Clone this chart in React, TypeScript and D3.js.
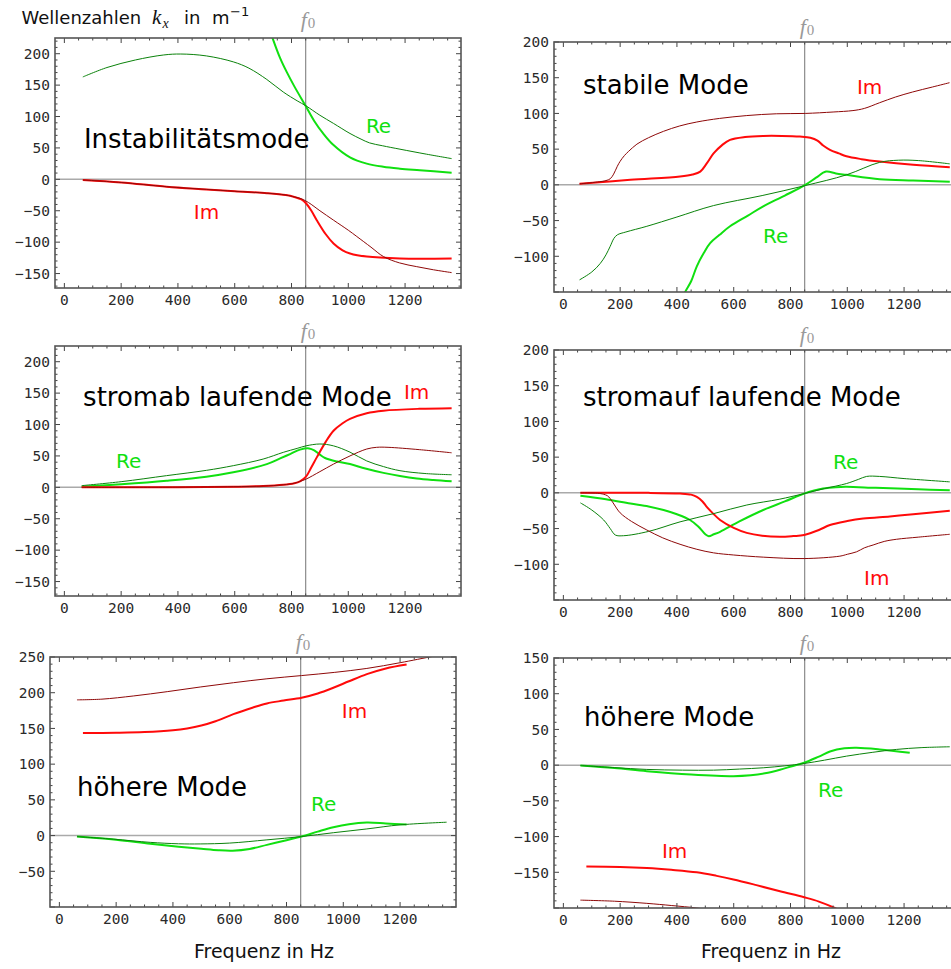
import React from "react";
import * as d3 from "d3";

type Pt = [number, number];

// Frequency axis (Hz)
const X_DOMAIN: [number, number] = [-33, 1397];
const X_MAJOR = [0, 200, 400, 600, 800, 1000, 1200];
const F0 = 850;

// ---------- Instabilitätsmode ----------
const instReDark: Pt[] = [[65, 163], [150, 178], [250, 190], [350, 198], [410, 199.5], [500, 196.5], [595, 187], [650, 177], [713, 159], [771, 139], [820, 125], [851, 117], [900, 102], [948, 89], [1006, 73], [1045, 64], [1075, 58], [1120, 53.5], [1182, 48], [1276, 40], [1364, 33]];
const instRe: Pt[] = [[705, 262], [734, 224], [760, 193], [783, 171], [810, 148], [851, 116], [880, 93], [910, 74], [947, 55], [1006, 35], [1065, 25], [1123, 20], [1182, 17], [1252, 14.5], [1364, 10.6]];
const instIm: Pt[] = [[65, -1], [200, -5], [360, -11.7], [500, -16], [600, -19], [713, -22], [780, -25], [810, -28], [835, -32], [851, -38], [870, -50], [889, -65], [920, -87], [948, -102], [980, -113], [1006, -118], [1065, -123], [1182, -126], [1364, -126]];
const instImDark: Pt[] = [[65, -1], [200, -5], [360, -11.7], [500, -16], [600, -19], [713, -22], [780, -25], [810, -28], [835, -31], [860, -37], [900, -50], [948, -65], [1000, -81], [1030, -91], [1080, -108], [1124, -123], [1180, -133], [1241, -139], [1300, -144], [1364, -148.5]];

// ---------- stabile Mode ----------
const stabImDark: Pt[] = [[57, 1.4], [120, 4], [150, 6], [165, 8.5], [177, 15], [190, 26], [200, 33], [215, 41], [230, 47], [259, 57], [300, 66], [353, 75], [410, 82.5], [470, 88], [550, 93], [646, 97], [750, 99.5], [852, 100], [950, 102], [1020, 104], [1060, 107], [1114, 115], [1170, 123], [1230, 130], [1300, 137], [1360, 143]];
const stabIm: Pt[] = [[57, 1.4], [236, 7], [411, 11.7], [455, 14.5], [482, 18.6], [505, 30], [529, 44], [560, 56], [587, 63], [640, 67], [704, 68.5], [770, 68.5], [833, 67.6], [870, 66], [895, 62], [915, 55], [939, 49], [970, 44], [997, 40], [1050, 36], [1114, 32.6], [1232, 28], [1361, 24.7]];
const stabReDark: Pt[] = [[57, -133], [100, -122], [130, -110], [150, -98], [165, -86], [178, -75], [190, -70], [220, -66], [294, -58], [400, -45], [529, -29], [700, -15], [852, -1], [997, 14], [1114, 31.5], [1180, 34.5], [1250, 34], [1361, 29.4]];
const stabRe: Pt[] = [[400, -175], [429, -150], [450, -135], [470, -114], [495, -95], [517, -81.6], [550, -70], [587, -58], [650, -43], [704, -30], [780, -15], [852, 0], [890, 10], [925, 18.6], [960, 16], [997, 14], [1114, 8], [1232, 6], [1361, 4.2]];

// ---------- stromab laufende Mode ----------
const downReDark: Pt[] = [[61, 2.7], [200, 9], [360, 18.6], [500, 27], [595, 34.5], [700, 45], [771, 55.7], [820, 62], [851, 66], [900, 69], [948, 66], [1006, 56], [1065, 42], [1124, 33], [1182, 26.5], [1270, 22], [1364, 20]];
const downRe: Pt[] = [[61, 1], [200, 5], [360, 10.6], [500, 17], [595, 24], [713, 37], [760, 46], [795, 53], [830, 60], [862, 62], [880, 59], [900, 52], [918, 46.7], [960, 41], [1006, 37], [1060, 30], [1124, 23], [1182, 18], [1241, 14], [1300, 11.5], [1364, 9.5]];
const downIm: Pt[] = [[61, 0], [400, 0.3], [595, 1], [700, 2], [771, 4], [810, 6.5], [830, 9.5], [851, 17], [870, 32], [889, 47.7], [920, 72], [948, 90], [980, 102], [1006, 109], [1065, 118], [1124, 122], [1250, 125], [1364, 126]];
const downImDark: Pt[] = [[61, 0], [400, 0.3], [595, 1], [700, 2], [771, 4], [810, 6.5], [830, 9.5], [851, 13], [900, 25], [948, 37], [1006, 50], [1065, 61], [1100, 63.7], [1140, 63.7], [1250, 60], [1364, 55]];

// ---------- stromauf laufende Mode ----------
const upIm: Pt[] = [[60, 0], [300, 0], [411, -1], [450, -2.5], [470, -5.6], [490, -12], [505, -19.6], [525, -28], [552, -38], [600, -49], [646, -56], [700, -60], [763, -61.5], [810, -60.5], [848, -59], [900, -52], [939, -45], [1000, -39.5], [1056, -36], [1150, -33], [1232, -30], [1361, -25]];
const upImDark: Pt[] = [[60, 0], [120, -0.5], [142, -2], [155, -4], [165, -8], [180, -17], [200, -28], [240, -40], [294, -52], [350, -63], [411, -72], [470, -79], [529, -84], [600, -87], [704, -90], [848, -92], [974, -88.6], [1000, -86], [1033, -82.5], [1060, -77], [1091, -73], [1130, -68], [1173, -65], [1250, -62], [1361, -58]];
const upRe: Pt[] = [[60, -4], [150, -9], [236, -15], [300, -19], [353, -24], [400, -30], [446, -38], [475, -47], [500, -58], [512, -60.6], [530, -58], [552, -54.5], [620, -40], [704, -24], [780, -12], [848, -1], [880, 3], [915, 6], [960, 8], [997, 8.4], [1100, 7], [1250, 5], [1361, 3.7]];
const upReDark: Pt[] = [[60, -14], [100, -24], [142, -38], [165, -50], [183, -59], [212, -60], [300, -54], [411, -40.6], [530, -29], [646, -17], [760, -9], [848, -1], [920, 6], [997, 13], [1040, 19], [1068, 23], [1114, 23], [1200, 20], [1361, 15.4]];

// ---------- höhere Mode (links) ----------
const highAImDark: Pt[] = [[62, 190], [150, 191], [262, 195.5], [380, 201.5], [496, 208], [613, 214], [731, 219.5], [853, 224], [970, 228.5], [1083, 234], [1200, 242], [1317, 251], [1360, 254]];
const highAIm: Pt[] = [[83, 143.5], [200, 144], [300, 145], [400, 147.5], [450, 150], [500, 154], [550, 160], [613, 170], [680, 179], [731, 185], [790, 189], [853, 193], [910, 199], [965, 207], [1020, 216], [1083, 226], [1150, 234], [1223, 239.5]];
const highAReDark: Pt[] = [[62, -1.4], [190, -5], [320, -9.5], [420, -11.5], [496, -11.7], [600, -10.5], [731, -6], [853, -1.4], [965, 4], [1083, 9.3], [1200, 15], [1364, 18.7]];
const highARe: Pt[] = [[62, -1.4], [200, -6], [320, -11.5], [420, -15.5], [500, -18.5], [560, -20.6], [610, -21.2], [670, -18.8], [731, -13], [800, -6.5], [853, -1.4], [910, 5.5], [965, 11.7], [1020, 16], [1083, 18.2], [1150, 17], [1223, 15.4]];

// ---------- höhere Mode (rechts) ----------
const highBRe: Pt[] = [[60, -0.5], [180, -4], [294, -8.4], [450, -13], [599, -15.4], [660, -14.2], [710, -11.5], [763, -6.5], [805, -1.5], [848, 3.3], [900, 12], [939, 19], [990, 23.5], [1032, 24.3], [1114, 22], [1220, 17.3]];
const highBReDark: Pt[] = [[60, -0.5], [180, -3.5], [294, -6], [420, -7], [529, -7], [620, -5.5], [704, -3.7], [780, -1], [848, 2.3], [920, 7], [997, 12.6], [1090, 18], [1173, 22], [1260, 24.5], [1361, 25.7]];
const highBIm: Pt[] = [[81, -142], [200, -142.5], [294, -144], [380, -146.5], [470, -150], [540, -155], [599, -160], [680, -168], [763, -176.6], [848, -185], [900, -191], [956, -200], [990, -207]];
const highBImDark: Pt[] = [[60, -189], [180, -190.5], [294, -193.5], [380, -196.5], [470, -200], [520, -203]];

const GREEN = "#10e010";
const DARK_GREEN = "#0a820a";
const RED = "#ff0a0a";
const DARK_RED = "#8e0808";

const W = 406;
const H = 250;

interface Label { text: string; f: number; v: number; color: string; size: number }
interface PanelSpec {
  id: string;
  left: number;
  top: number;
  yDomain: [number, number];
  f0Dy: number;
  re: Pt[]; reDark: Pt[]; im: Pt[]; imDark: Pt[];
  labels: Label[];
}

const panels: PanelSpec[] = [
  {
    id: "p1", left: 55, top: 38, yDomain: [-173, 225], f0Dy: -11,
    re: instRe, reDark: instReDark, im: instIm, imDark: instImDark,
    labels: [
      { text: "Instabilitätsmode", f: 69, v: 50, color: "#000", size: 26 },
      { text: "Re", f: 1062, v: 74, color: GREEN, size: 20 },
      { text: "Im", f: 456, v: -63, color: RED, size: 20 },
    ],
  },
  {
    id: "p2", left: 554, top: 42, yDomain: [-150, 200], f0Dy: -8,
    re: stabRe, reDark: stabReDark, im: stabIm, imDark: stabImDark,
    labels: [
      { text: "stabile Mode", f: 69, v: 127, color: "#000", size: 26 },
      { text: "Im", f: 1034, v: 127, color: RED, size: 20 },
      { text: "Re", f: 703, v: -81, color: GREEN, size: 20 },
    ],
  },
  {
    id: "p3", left: 55, top: 346, yDomain: [-173, 225], f0Dy: -8,
    re: downRe, reDark: downReDark, im: downIm, imDark: downImDark,
    labels: [
      { text: "stromab laufende Mode", f: 66, v: 129, color: "#000", size: 26 },
      { text: "Im", f: 1196, v: 140, color: RED, size: 20 },
      { text: "Re", f: 182, v: 30, color: GREEN, size: 20 },
    ],
  },
  {
    id: "p4", left: 554, top: 350, yDomain: [-150, 200], f0Dy: -8,
    re: upRe, reDark: upReDark, im: upIm, imDark: upImDark,
    labels: [
      { text: "stromauf laufende Mode", f: 69, v: 121, color: "#000", size: 26 },
      { text: "Re", f: 950, v: 33, color: GREEN, size: 20 },
      { text: "Im", f: 1059, v: -129, color: RED, size: 20 },
    ],
  },
  {
    id: "p5", left: 50, top: 657, yDomain: [-100, 250], f0Dy: -8,
    re: highARe, reDark: highAReDark, im: highAIm, imDark: highAImDark,
    labels: [
      { text: "höhere Mode", f: 62, v: 56, color: "#000", size: 26 },
      { text: "Im", f: 995, v: 165, color: RED, size: 20 },
      { text: "Re", f: 886, v: 34, color: GREEN, size: 20 },
    ],
  },
  {
    id: "p6", left: 554, top: 658, yDomain: [-200, 150], f0Dy: -8,
    re: highBRe, reDark: highBReDark, im: highBIm, imDark: highBImDark,
    labels: [
      { text: "höhere Mode", f: 73, v: 55, color: "#000", size: 26 },
      { text: "Re", f: 897, v: -44, color: GREEN, size: 20 },
      { text: "Im", f: 347, v: -130, color: RED, size: 20 },
    ],
  },
];

const fmt = (v: number) => (v < 0 ? "\u2212" + Math.abs(v) : String(v));
const SANS = "'DejaVu Sans', sans-serif";
const MONO = "'DejaVu Sans Mono', monospace";
const SERIF = "'Liberation Serif', 'DejaVu Serif', serif";

function Panel({ p }: { p: PanelSpec }) {
  const x = d3.scaleLinear().domain(X_DOMAIN).range([p.left, p.left + W]);
  const y = d3.scaleLinear().domain(p.yDomain).range([p.top + H, p.top]);
  const line = d3
    .line<Pt>()
    .x((d) => x(d[0]))
    .y((d) => y(d[1]))
    .curve(d3.curveCatmullRom.alpha(0.5));

  const [y0, y1] = p.yDomain;
  const yMajor = d3.range(Math.ceil(y0 / 50) * 50, y1 + 0.01, 50);
  const yMinor = d3.range(Math.ceil(y0 / 10) * 10, y1 + 0.01, 10).filter((v) => v % 50 !== 0);
  const xMinor = d3.range(0, X_DOMAIN[1], 50).filter((v) => v % 200 !== 0);
  const xMajor = d3.range(0, X_DOMAIN[1], 200);
  const L = p.left, R = p.left + W, T = p.top, B = p.top + H;
  const tickColor = "#444";

  return (
    <g>
      <defs>
        <clipPath id={`clip-${p.id}`}>
          <rect x={L} y={T} width={W} height={H} />
        </clipPath>
      </defs>
      {/* zero line and f0 marker */}
      <line x1={L} x2={R} y1={y(0)} y2={y(0)} stroke="#aaa" strokeWidth={1.5} />
      <line x1={x(F0)} x2={x(F0)} y1={T} y2={B} stroke="#808080" strokeWidth={1.1} />
      <text x={x(F0) - 5} y={T + p.f0Dy} fill="#999" fontFamily={SERIF}>
        <tspan fontStyle="italic" fontSize={22}>f</tspan>
        <tspan fontSize={15} dx={1} dy={1}>0</tspan>
      </text>

      {/* curves */}
      <g clipPath={`url(#clip-${p.id})`} fill="none" strokeLinejoin="round">
        <path d={line(p.re) || ""} stroke={GREEN} strokeWidth={2} />
        <path d={line(p.im) || ""} stroke={RED} strokeWidth={2} />
        <path d={line(p.reDark) || ""} stroke={DARK_GREEN} strokeWidth={1} />
        <path d={line(p.imDark) || ""} stroke={DARK_RED} strokeWidth={1} />
      </g>

      {/* frame ticks */}
      <g stroke={tickColor} strokeWidth={1}>
        {xMajor.map((v) => (
          <g key={`xM${v}`}>
            <line x1={x(v)} x2={x(v)} y1={B} y2={B - 5} />
            <line x1={x(v)} x2={x(v)} y1={T} y2={T + 5} />
          </g>
        ))}
        {xMinor.map((v) => (
          <g key={`xm${v}`}>
            <line x1={x(v)} x2={x(v)} y1={B} y2={B - 2.5} />
            <line x1={x(v)} x2={x(v)} y1={T} y2={T + 2.5} />
          </g>
        ))}
        {yMajor.map((v) => (
          <g key={`yM${v}`}>
            <line x1={L} x2={L + 5} y1={y(v)} y2={y(v)} />
            <line x1={R} x2={R - 5} y1={y(v)} y2={y(v)} />
          </g>
        ))}
        {yMinor.map((v) => (
          <g key={`ym${v}`}>
            <line x1={L} x2={L + 2.5} y1={y(v)} y2={y(v)} />
            <line x1={R} x2={R - 2.5} y1={y(v)} y2={y(v)} />
          </g>
        ))}
      </g>
      <rect x={L} y={T} width={W} height={H} fill="none" stroke="#555" strokeWidth={1.6} />

      {/* tick labels */}
      <g fontFamily={MONO} fontSize={14.5} fill="#2a2a2a">
        {X_MAJOR.map((v) => (
          <text key={`xl${v}`} x={x(v)} y={B + 17} textAnchor="middle">{fmt(v)}</text>
        ))}
        {yMajor.filter((v) => v > y0 + 1).map((v) => (
          <text key={`yl${v}`} x={L - 5} y={y(v)} dy="0.36em" textAnchor="end">{fmt(v)}</text>
        ))}
      </g>

      {/* annotations */}
      {p.labels.map((lb) => (
        <text key={lb.text} x={x(lb.f)} y={y(lb.v)} fill={lb.color} fontFamily={SANS} fontSize={lb.size}>
          {lb.text}
        </text>
      ))}
    </g>
  );
}

export default function App() {
  return (
    <svg
      width={951}
      height={969}
      viewBox="0 0 951 969"
      style={{ position: "absolute", left: 0, top: 0, background: "#fff" }}
    >
      <rect x={0} y={0} width={951} height={969} fill="#fff" />
      {/* y-axis title */}
      <text y={24} fontFamily={SANS} fontSize={18} fill="#111">
        <tspan x={21.5}>Wellenzahlen</tspan>
        <tspan x={152} fontFamily={SERIF} fontStyle="italic" fontSize={21}>k</tspan>
        <tspan x={162.5} dy={4} fontFamily={SERIF} fontStyle="italic" fontSize={14}>x</tspan>
        <tspan x={184} dy={-4}>in</tspan>
        <tspan x={212}>m</tspan>
        <tspan x={230} dy={-8} fontSize={13}>{"\u22121"}</tspan>
      </text>
      {panels.map((p) => (
        <Panel key={p.id} p={p} />
      ))}
      {/* x-axis titles */}
      <text x={264} y={958} textAnchor="middle" fontFamily={SANS} fontSize={19} fill="#111">Frequenz in Hz</text>
      <text x={771} y={958} textAnchor="middle" fontFamily={SANS} fontSize={19} fill="#111">Frequenz in Hz</text>
    </svg>
  );
}
